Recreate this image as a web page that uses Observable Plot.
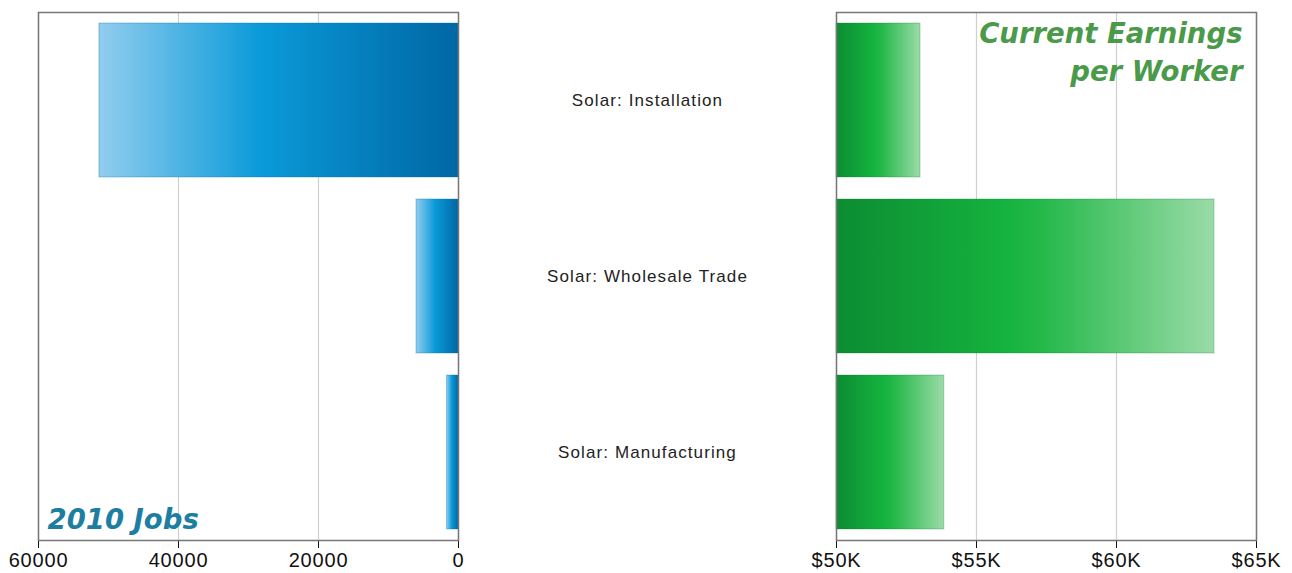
<!DOCTYPE html>
<html>
<head>
<meta charset="utf-8">
<script src="https://cdn.jsdelivr.net/npm/d3@7"></script>
<script src="https://cdn.jsdelivr.net/npm/@observablehq/plot@0.6"></script>
<style>
  html, body { margin: 0; padding: 0; background: #fff; }
  #wrap { position: relative; width: 1292px; height: 573px; overflow: hidden; font-family: "Liberation Sans", Arial, sans-serif; }
  .panel { position: absolute; top: 0; }
  .panel svg { max-width: none !important; }
  .panel svg g[aria-label="text"] text { letter-spacing: 0px; }
  #mid svg g[aria-label="text"] text { letter-spacing: 1.1px; }
</style>
</head>
<body>
<div id="wrap">
  <svg width="0" height="0" style="position:absolute">
    <defs>
      <linearGradient id="blueGrad" x1="0" x2="1" y1="0" y2="0">
        <stop offset="0" stop-color="#92cdef"/>
        <stop offset="0.45" stop-color="#0a9ad9"/>
        <stop offset="1" stop-color="#0067a4"/>
      </linearGradient>
      <linearGradient id="greenGrad" x1="0" x2="1" y1="0" y2="0">
        <stop offset="0" stop-color="#0c8c32"/>
        <stop offset="0.45" stop-color="#15b33f"/>
        <stop offset="0.55" stop-color="#26b94b"/>
        <stop offset="1" stop-color="#9adba7"/>
      </linearGradient>
    </defs>
  </svg>
  <div class="panel" id="left" style="left:0px;width:480px"></div>
  <div class="panel" id="mid" style="left:458px;width:378px"></div>
  <div class="panel" id="right" style="left:800px;width:492px"></div>
</div>
<script>
const categories = ["Solar: Installation", "Solar: Wholesale Trade", "Solar: Manufacturing"];
const jobs2010 = [51300, 6000, 1650];
const earnings = [53000, 63500, 53850];
const jobTicks = [0, 20000, 40000, 60000];
const earnTicks = [50000, 55000, 60000, 65000];
const jobsTitle = "2010 Jobs";
const earnTitle = "Current Earnings\nper Worker";

const jobsData = categories.map((c, i) => ({cat: c, value: jobs2010[i]}));
const earnData = categories.map((c, i) => ({cat: c, value: earnings[i]}));

const H = 573, MT = 12, MB = 33;
const yScale = {domain: categories, paddingInner: 0.125, paddingOuter: 0.055, axis: null};
const font = {fontFamily: "'Liberation Sans', Arial, sans-serif", fontSize: "20px", letterSpacing: "0.8px", color: "#111", background: "transparent", overflow: "visible"};
const titleFont = "'DejaVu Sans', Verdana, sans-serif";

const left = Plot.plot({
  width: 480, height: H,
  marginLeft: 38, marginRight: 22, marginTop: MT, marginBottom: MB,
  style: font,
  x: {domain: [0, 60000], reverse: true, ticks: jobTicks, tickFormat: d => String(d), tickSize: 8, tickPadding: 4, line: true, label: null},
  y: yScale,
  marks: [
    Plot.ruleX(jobTicks, {stroke: "#cfcfcf", strokeWidth: 1.2}),
    Plot.barX(jobsData, {y: "cat", x: "value", fill: "url(#blueGrad)", stroke: "#0a6fae", strokeOpacity: 0.35, strokeWidth: 1}),
    Plot.frame({stroke: "#777", strokeWidth: 1.5}),
    Plot.text([jobsTitle], {frameAnchor: "bottom-left", dx: 9, dy: -20, lineAnchor: "middle", textAnchor: "start", fill: "#1d7ea1", fontSize: 27.5, fontFamily: titleFont, fontWeight: "bold", fontStyle: "italic"})
  ]
});
document.getElementById("left").appendChild(left);

const mid = Plot.plot({
  width: 378, height: H,
  marginLeft: 0, marginRight: 0, marginTop: MT, marginBottom: MB,
  style: {fontFamily: "'Liberation Sans', Arial, sans-serif", fontSize: "17px", background: "transparent", letterSpacing: "1.1px"},
  x: {axis: null},
  y: yScale,
  marks: [
    Plot.text(categories, {y: d => d, text: d => d, fill: "#222", fontSize: 17})
  ]
});
document.getElementById("mid").appendChild(mid);

const right = Plot.plot({
  width: 492, height: H,
  marginLeft: 36, marginRight: 36, marginTop: MT, marginBottom: MB,
  style: font,
  x: {domain: [50000, 65000], clamp: true, ticks: earnTicks, tickFormat: d => "$" + (d / 1000) + "K", tickSize: 8, tickPadding: 4, line: true, label: null},
  y: yScale,
  marks: [
    Plot.ruleX(earnTicks, {stroke: "#cfcfcf", strokeWidth: 1.2}),
    Plot.barX(earnData, {y: "cat", x: "value", fill: "url(#greenGrad)", stroke: "#0a7a2c", strokeOpacity: 0.3, strokeWidth: 1}),
    Plot.frame({stroke: "#777", strokeWidth: 1.5}),
    Plot.text([earnTitle], {frameAnchor: "top-right", dx: -14, dy: 4, lineAnchor: "top", textAnchor: "end", lineHeight: 1.38, fill: "#4a9a4a", fontSize: 27.5, fontFamily: titleFont, fontWeight: "bold", fontStyle: "italic"})
  ]
});
document.getElementById("right").appendChild(right);
</script>
</body>
</html>
